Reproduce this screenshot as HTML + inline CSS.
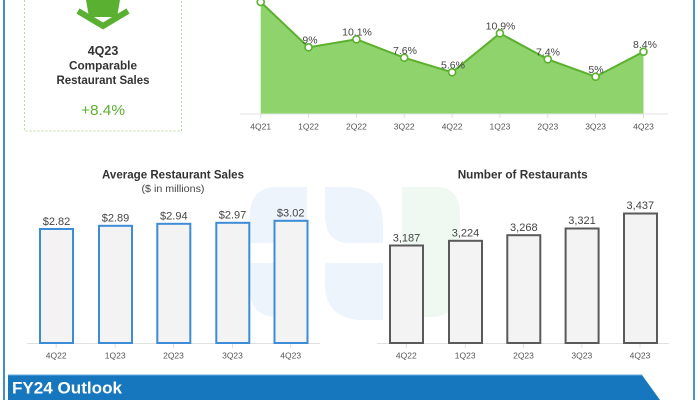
<!DOCTYPE html>
<html><head><meta charset="utf-8"><style>
html,body{margin:0;padding:0;background:#fff;}
svg{display:block;}
text{font-family:"Liberation Sans",Arial,sans-serif;}
</style></head><body>
<svg width="700" height="400" viewBox="0 0 700 400" xmlns="http://www.w3.org/2000/svg">
<rect width="700" height="400" fill="#fff"/>
<!-- watermark -->
<g>
  <path d="M250,243 L250,215 Q250,187 278,187 L307,187 L307,243 Z" fill="#edf4fc"/>
  <path d="M250,263 L307,263 L307,317 L278,317 Q250,317 250,290 Z" fill="#edf4fc"/>
  <path d="M325,187 L350,187 Q383,190 383,225 L383,243 L345,243 Q325,240 325,215 Z" fill="#edf4fc"/>
  <path d="M325,263 L383,263 L383,320 L358,320 Q325,316 325,285 Z" fill="#edf4fc"/>
  <path d="M402,187 L440,187 Q460,190 460,215 L460,290 Q458,317 430,317 L402,317 Z" fill="#eff8f1"/>
</g>
<!-- borders -->
<rect x="3" y="0" width="2" height="400" fill="#3f8fd2"/>
<rect x="693" y="0" width="2" height="400" fill="#4a94cf"/>
<!-- left KPI box -->
<rect x="24.5" y="-10" width="157" height="141" fill="none" stroke="#b9d99e" stroke-width="1" stroke-dasharray="2,2"/>
<polygon points="86,0 120,0 117,17 89,17" fill="#5ab031"/>
<polyline points="78,11 103,26 128,11" fill="none" stroke="#5ab031" stroke-width="6" stroke-linejoin="miter"/>
<text x="103" y="55" font-size="12.5" font-weight="bold" fill="#333" text-anchor="middle">4Q23</text>
<text x="103" y="69.5" font-size="12" font-weight="bold" fill="#333" text-anchor="middle" textLength="68" lengthAdjust="spacingAndGlyphs">Comparable</text>
<text x="103" y="84" font-size="12" font-weight="bold" fill="#333" text-anchor="middle" textLength="93" lengthAdjust="spacingAndGlyphs">Restaurant Sales</text>
<text x="103" y="115" font-size="15" fill="#5ab031" text-anchor="middle" textLength="44" lengthAdjust="spacingAndGlyphs">+8.4%</text>
<!-- line chart -->
<line x1="240" y1="114" x2="668" y2="114" stroke="#e3e3e3" stroke-width="1"/>
<path d="M260.7,2 L308.5,47.3 L356.4,39.3 L404.2,57.7 L452.1,72.3 L499.9,33.3 L547.8,59.3 L595.6,76.7 L643.5,51.7 L643.5,113.5 L260.7,113.5 Z" fill="#8fd36c"/>
<polyline points="260.7,2 308.5,47.3 356.4,39.3 404.2,57.7 452.1,72.3 499.9,33.3 547.8,59.3 595.6,76.7 643.5,51.7" fill="none" stroke="#5bb02e" stroke-width="2"/>
<g fill="#fff" stroke="#5bb02e" stroke-width="1.6">
<circle cx="260.7" cy="2" r="3.5"/><circle cx="308.5" cy="47.3" r="3.5"/><circle cx="356.4" cy="39.3" r="3.5"/><circle cx="404.2" cy="57.7" r="3.5"/><circle cx="452.1" cy="72.3" r="3.5"/><circle cx="499.9" cy="33.3" r="3.5"/><circle cx="547.8" cy="59.3" r="3.5"/><circle cx="595.6" cy="76.7" r="3.5"/><circle cx="643.5" cy="51.7" r="3.5"/>
</g>
<g font-size="10.5" fill="#444" text-anchor="middle">
<text x="310" y="43.5">9%</text>
<text x="357" y="35.5">10.1%</text>
<text x="405" y="54">7.6%</text>
<text x="453" y="68.5">5.6%</text>
<text x="500.5" y="29.5">10.9%</text>
<text x="548" y="55.5">7.4%</text>
<text x="596" y="73">5%</text>
<text x="645" y="48">8.4%</text>
</g>
<g stroke="#ddd" stroke-width="1">
<line x1="260.7" y1="114" x2="260.7" y2="118"/><line x1="308.5" y1="114" x2="308.5" y2="118"/><line x1="356.4" y1="114" x2="356.4" y2="118"/><line x1="404.2" y1="114" x2="404.2" y2="118"/><line x1="452.1" y1="114" x2="452.1" y2="118"/><line x1="499.9" y1="114" x2="499.9" y2="118"/><line x1="547.8" y1="114" x2="547.8" y2="118"/><line x1="595.6" y1="114" x2="595.6" y2="118"/><line x1="643.5" y1="114" x2="643.5" y2="118"/>
</g>
<g font-size="8.5" fill="#555" text-anchor="middle">
<text x="260.7" y="129.5">4Q21</text><text x="308.5" y="129.5">1Q22</text><text x="356.4" y="129.5">2Q22</text><text x="404.2" y="129.5">3Q22</text><text x="452.1" y="129.5">4Q22</text><text x="499.9" y="129.5">1Q23</text><text x="547.8" y="129.5">2Q23</text><text x="595.6" y="129.5">3Q23</text><text x="643.5" y="129.5">4Q23</text>
</g>
<!-- Average Restaurant Sales -->
<text x="173" y="178.5" font-size="12" font-weight="bold" fill="#333" text-anchor="middle" textLength="142" lengthAdjust="spacingAndGlyphs">Average Restaurant Sales</text>
<text x="173" y="192" font-size="10.5" fill="#444" text-anchor="middle" textLength="63" lengthAdjust="spacingAndGlyphs">($ in millions)</text>
<line x1="27" y1="343.5" x2="320" y2="343.5" stroke="#e0e0e0" stroke-width="1"/>
<g stroke="#e0e0e0" stroke-width="1">
<line x1="56.2" y1="343.5" x2="56.2" y2="348"/><line x1="115.2" y1="343.5" x2="115.2" y2="348"/><line x1="173.5" y1="343.5" x2="173.5" y2="348"/><line x1="232.5" y1="343.5" x2="232.5" y2="348"/><line x1="290.7" y1="343.5" x2="290.7" y2="348"/>
</g>
<g fill="#f3f3f3" stroke="#3d8cd8" stroke-width="2">
<rect x="40" y="229" width="33" height="114"/>
<rect x="99" y="225.8" width="33" height="117.2"/>
<rect x="157.3" y="223.8" width="33" height="119.2"/>
<rect x="216.3" y="222.8" width="33" height="120.2"/>
<rect x="274.5" y="220.8" width="33" height="122.2"/>
</g>
<g font-size="11" fill="#444" text-anchor="middle">
<text x="56.5" y="225">$2.82</text><text x="115.5" y="221.5">$2.89</text><text x="173.8" y="219.5">$2.94</text><text x="232.5" y="218.5">$2.97</text><text x="290.7" y="216.5">$3.02</text>
</g>
<g font-size="8.5" fill="#555" text-anchor="middle">
<text x="56.2" y="358.5">4Q22</text><text x="115.2" y="358.5">1Q23</text><text x="173.5" y="358.5">2Q23</text><text x="232.5" y="358.5">3Q23</text><text x="290.7" y="358.5">4Q23</text>
</g>
<!-- Number of Restaurants -->
<text x="522.7" y="178.5" font-size="12" font-weight="bold" fill="#333" text-anchor="middle" textLength="130" lengthAdjust="spacingAndGlyphs">Number of Restaurants</text>
<line x1="377" y1="343.5" x2="669" y2="343.5" stroke="#e0e0e0" stroke-width="1"/>
<g stroke="#e0e0e0" stroke-width="1">
<line x1="406.3" y1="343.5" x2="406.3" y2="348"/><line x1="465.2" y1="343.5" x2="465.2" y2="348"/><line x1="523.5" y1="343.5" x2="523.5" y2="348"/><line x1="581.8" y1="343.5" x2="581.8" y2="348"/><line x1="640" y1="343.5" x2="640" y2="348"/>
</g>
<g fill="#f3f3f3" stroke="#5a5a5a" stroke-width="2">
<rect x="390" y="245.5" width="33" height="97.5"/>
<rect x="449" y="240.8" width="33" height="102.2"/>
<rect x="507.3" y="235.2" width="33" height="107.8"/>
<rect x="565.6" y="228.5" width="33" height="114.5"/>
<rect x="624" y="213.5" width="33" height="129.5"/>
</g>
<g font-size="11" fill="#444" text-anchor="middle">
<text x="406.5" y="241.5">3,187</text><text x="465.5" y="236.5">3,224</text><text x="523.8" y="231">3,268</text><text x="582" y="224">3,321</text><text x="640.3" y="209">3,437</text>
</g>
<g font-size="8.5" fill="#555" text-anchor="middle">
<text x="406.3" y="358.5">4Q22</text><text x="465.2" y="358.5">1Q23</text><text x="523.5" y="358.5">2Q23</text><text x="581.8" y="358.5">3Q23</text><text x="640" y="358.5">4Q23</text>
</g>
<!-- banner -->
<polygon points="8,375 642,375 660,400 8,400" fill="#1677be"/>
<line x1="8" y1="375" x2="642" y2="375" stroke="#6aaee0" stroke-width="1"/>
<text x="12" y="393.5" font-size="17" font-weight="bold" fill="#fff" textLength="110" lengthAdjust="spacingAndGlyphs">FY24 Outlook</text>
</svg>
</body></html>
